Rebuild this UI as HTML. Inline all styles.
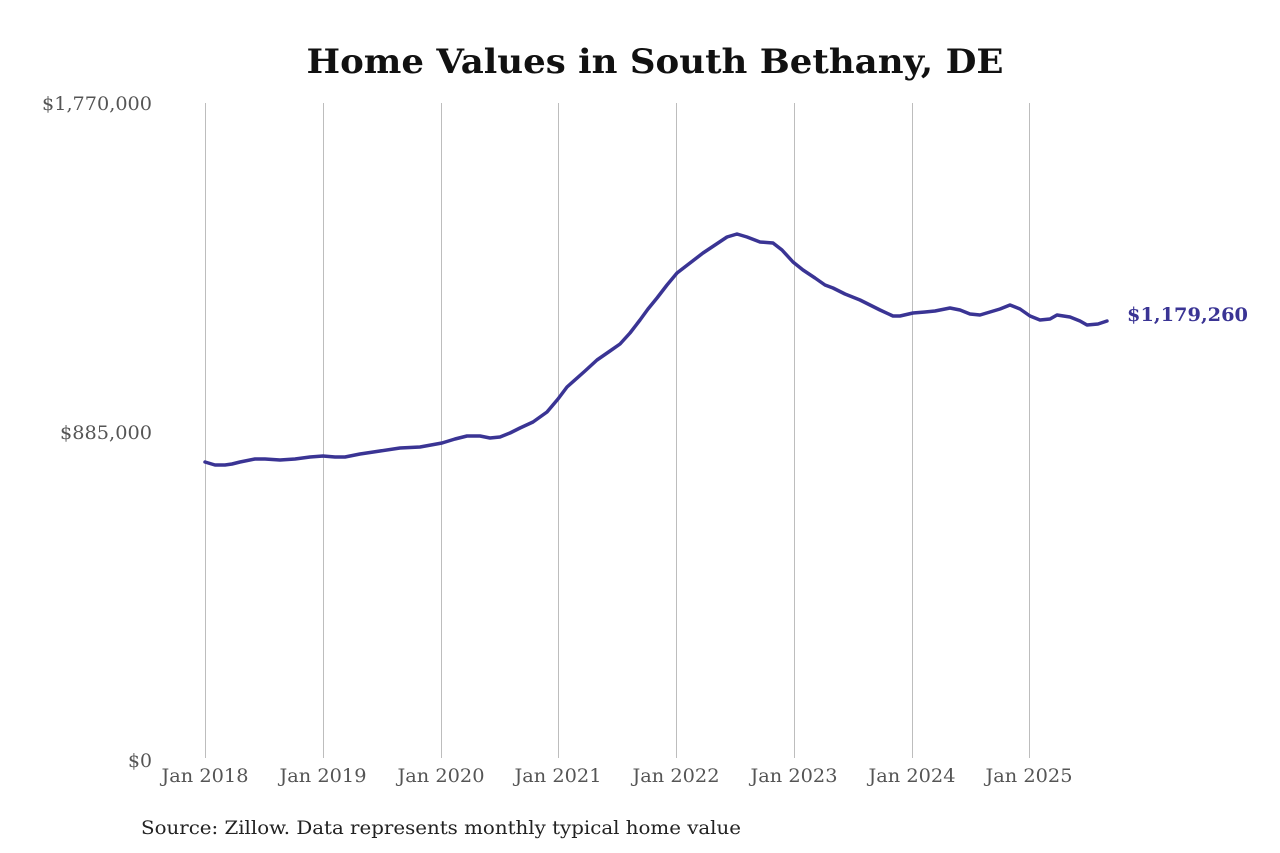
<!DOCTYPE html>
<html>
<head>
<meta charset="utf-8">
<style>
html,body{margin:0;padding:0;background:#fff;}
svg{display:block;}
</style>
</head>
<body>
<svg width="1280" height="853" viewBox="0 0 1280 853" xmlns="http://www.w3.org/2000/svg">
<rect width="1280" height="853" fill="#fff"/>
<text x="655" y="73" text-anchor="middle" font-family="DejaVu Serif, Liberation Serif, serif" font-weight="bold" font-size="34" fill="#111" textLength="697" lengthAdjust="spacingAndGlyphs">Home Values in South Bethany, DE</text>
<g stroke="#bdbdbd" stroke-width="1">
<line x1="205.5" y1="103" x2="205.5" y2="758"/>
<line x1="323.5" y1="103" x2="323.5" y2="758"/>
<line x1="441.5" y1="103" x2="441.5" y2="758"/>
<line x1="558.5" y1="103" x2="558.5" y2="758"/>
<line x1="676.5" y1="103" x2="676.5" y2="758"/>
<line x1="794.5" y1="103" x2="794.5" y2="758"/>
<line x1="912.5" y1="103" x2="912.5" y2="758"/>
<line x1="1029.5" y1="103" x2="1029.5" y2="758"/>
</g>
<g font-family="DejaVu Serif, Liberation Serif, serif" font-size="19" fill="#555" text-anchor="end">
<text x="152" y="110" textLength="110" lengthAdjust="spacingAndGlyphs">$1,770,000</text>
<text x="152" y="439" textLength="92" lengthAdjust="spacingAndGlyphs">$885,000</text>
<text x="152" y="767" textLength="24" lengthAdjust="spacingAndGlyphs">$0</text>
</g>
<g font-family="DejaVu Serif, Liberation Serif, serif" font-size="18.5" fill="#555" text-anchor="middle">
<text x="205" y="782" textLength="87" lengthAdjust="spacingAndGlyphs">Jan 2018</text>
<text x="323" y="782" textLength="87" lengthAdjust="spacingAndGlyphs">Jan 2019</text>
<text x="441" y="782" textLength="87" lengthAdjust="spacingAndGlyphs">Jan 2020</text>
<text x="558" y="782" textLength="87" lengthAdjust="spacingAndGlyphs">Jan 2021</text>
<text x="676" y="782" textLength="87" lengthAdjust="spacingAndGlyphs">Jan 2022</text>
<text x="794" y="782" textLength="87" lengthAdjust="spacingAndGlyphs">Jan 2023</text>
<text x="912" y="782" textLength="87" lengthAdjust="spacingAndGlyphs">Jan 2024</text>
<text x="1029" y="782" textLength="87" lengthAdjust="spacingAndGlyphs">Jan 2025</text>
</g>
<polyline fill="none" stroke="#3a3494" stroke-width="3.5" stroke-linejoin="round" stroke-linecap="round" points="
205,462 215,465 225,465 232,464 240,462 255,459 265,459 280,460 295,459 310,457 323,456 335,457 345,457 360,454 380,451 400,448 420,447 442,443 455,439 467,436 480,436 490,438 500,437 510,433 520,428 533,422 547,412 558,399 567,387 585,371 597,360 610,351 620,344 630,333 640,320 648,309 657,298 667,285 677,273 690,263 703,253 715,245 727,237 737,234 747,237 760,242 773,243 782,250 793,262 803,270 815,278 825,285 833,288 845,294 860,300 870,305 880,310 893,316 900,316 913,313 925,312 935,311 950,308 960,310 970,314 980,315 990,312 1000,309 1010,305 1020,309 1030,316 1040,320 1050,319 1057,315 1070,317 1080,321 1087,325 1098,324 1107,321"/>
<text x="1127" y="321" font-family="DejaVu Serif, Liberation Serif, serif" font-weight="bold" font-size="19" fill="#3a3494" textLength="121" lengthAdjust="spacingAndGlyphs">$1,179,260</text>
<text x="141" y="834" font-family="DejaVu Serif, Liberation Serif, serif" font-size="19" fill="#222" textLength="600" lengthAdjust="spacingAndGlyphs">Source: Zillow. Data represents monthly typical home value</text>
</svg>
</body>
</html>
